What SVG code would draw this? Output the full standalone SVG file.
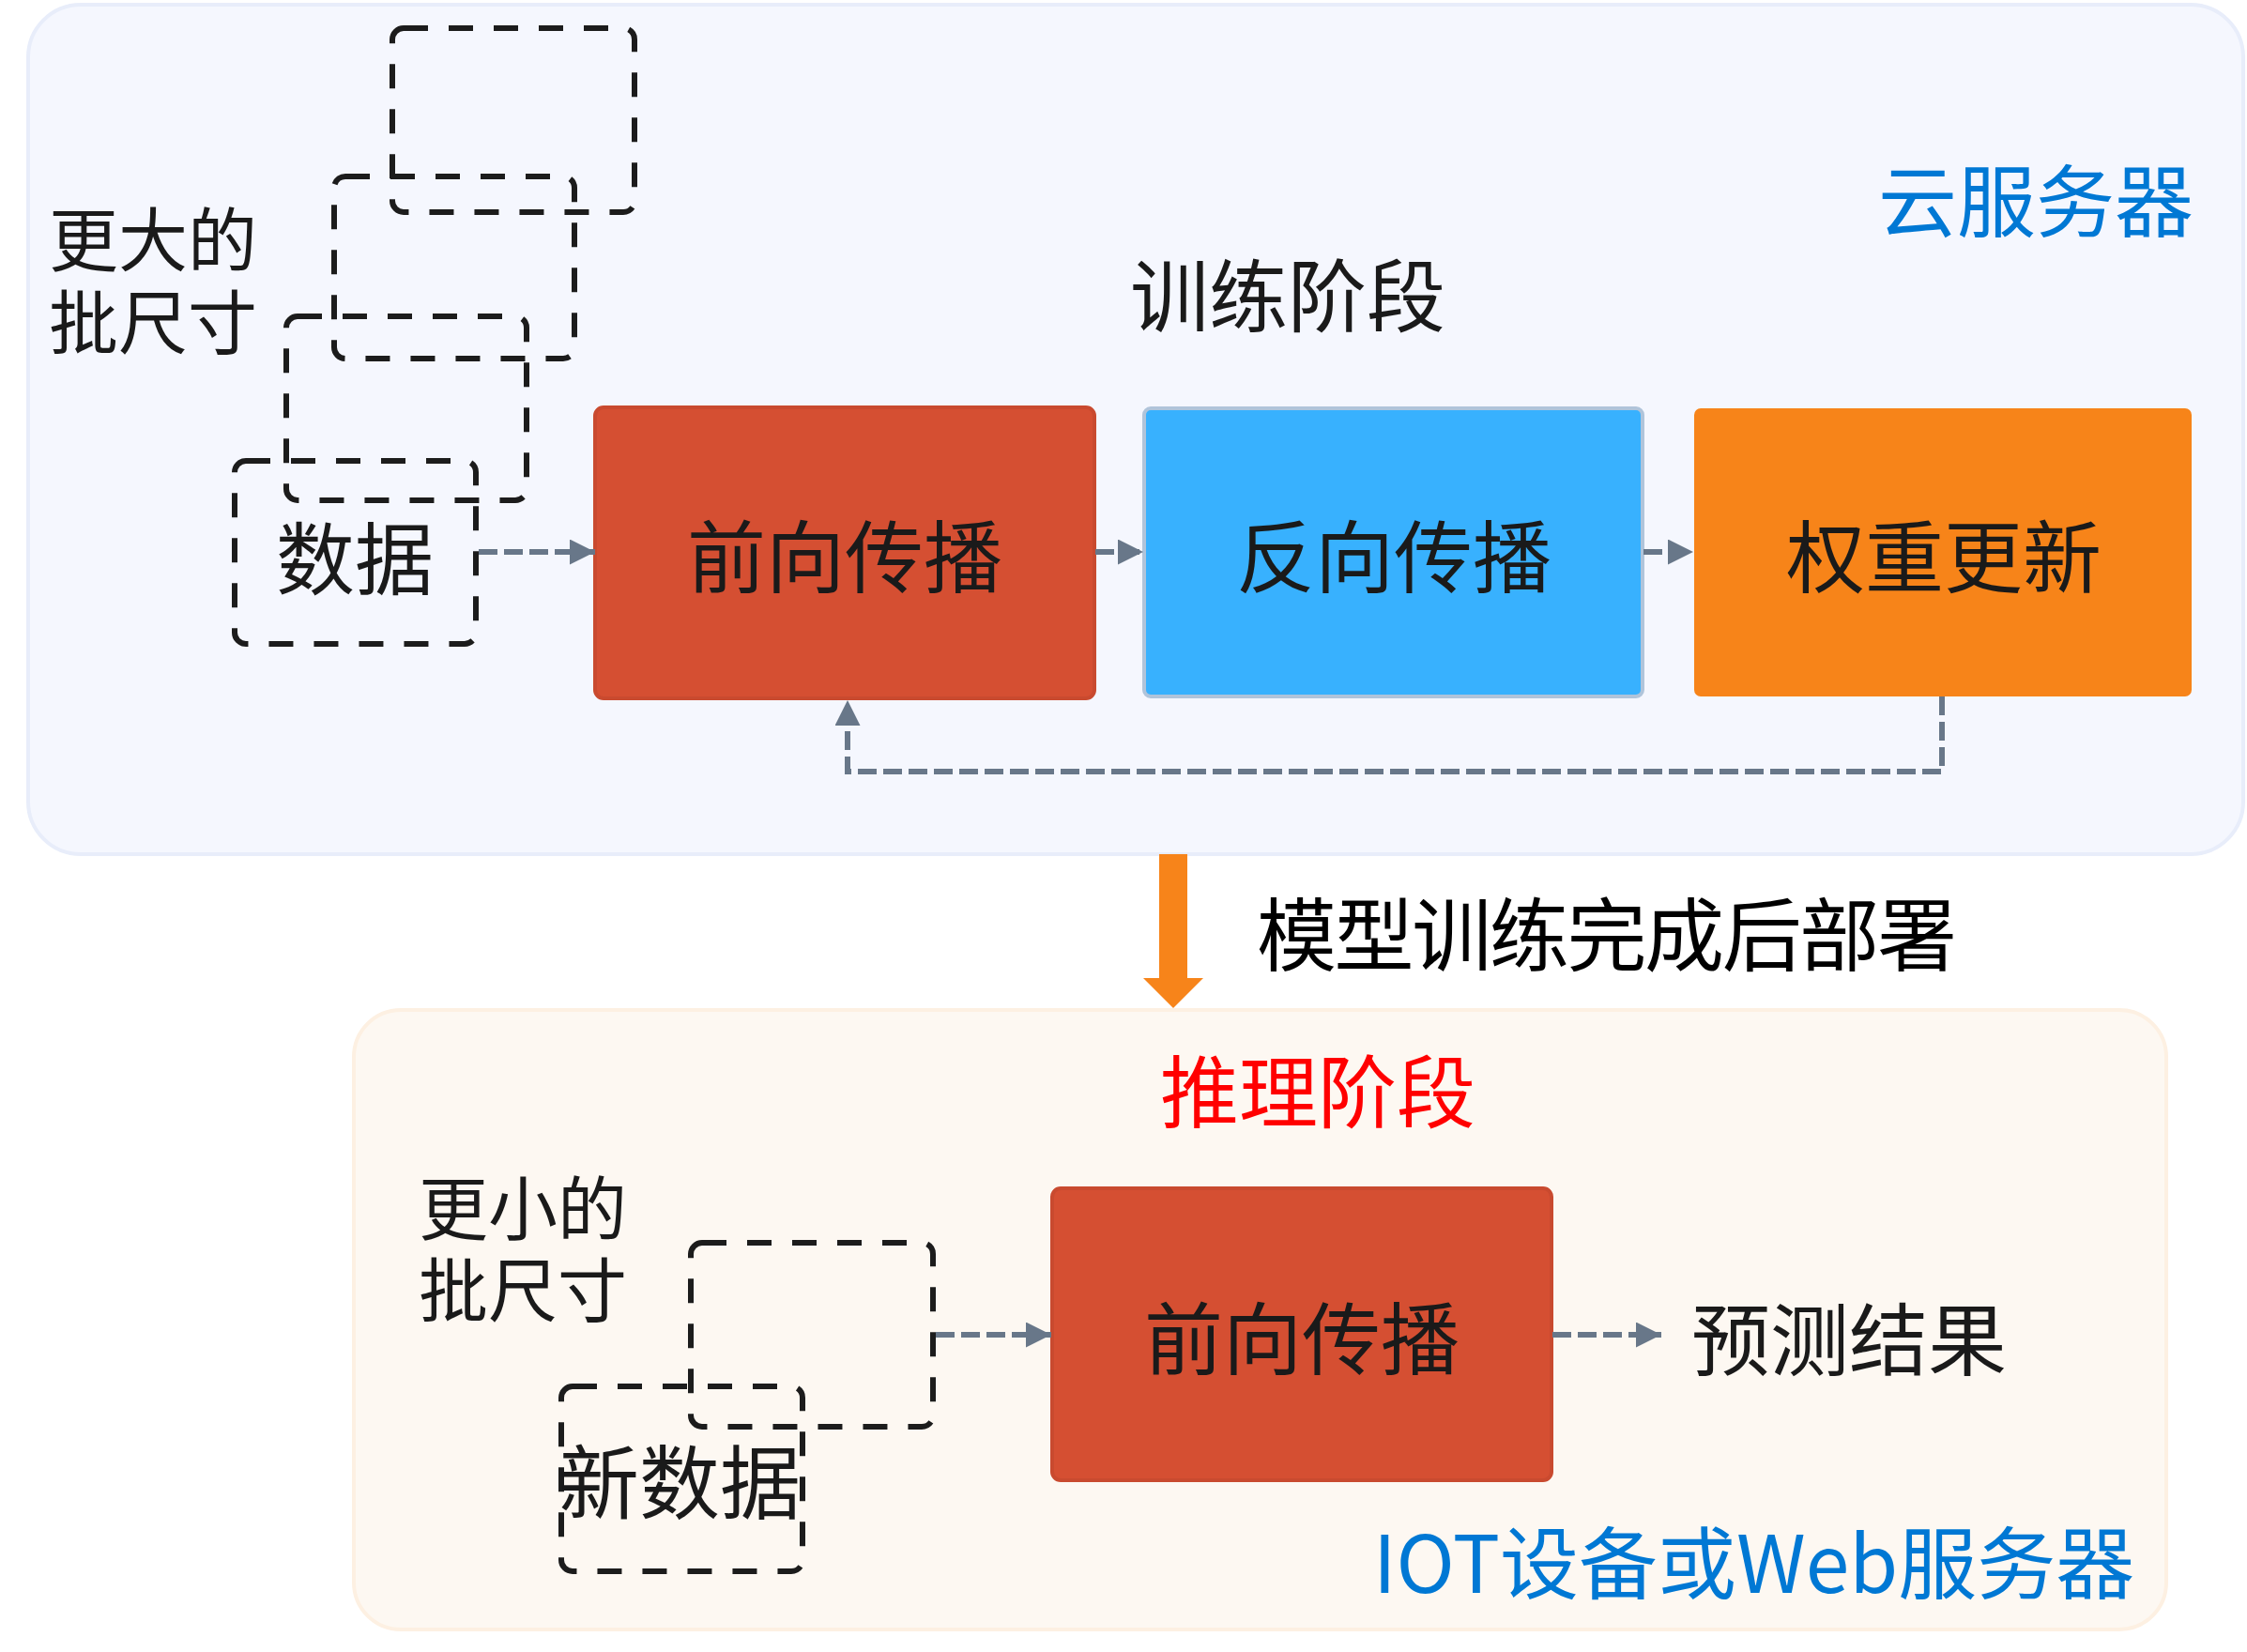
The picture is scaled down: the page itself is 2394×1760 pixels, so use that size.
<svg xmlns="http://www.w3.org/2000/svg" width="2394" height="1760" viewBox="0 0 2394 1760">
<defs>
<style>
.t{font-family:"Noto Sans CJK SC","Liberation Sans",sans-serif;dominant-baseline:central}
.dk{fill:#1a1a1a}
.c{text-anchor:middle}
.blue{fill:#0078D4}
.dash{fill:none;stroke:#1c1c1c;stroke-width:6;stroke-dasharray:26 22}
.conn{fill:none;stroke:#687789;stroke-width:6;stroke-dasharray:20 7}
</style>
<marker id="ah" viewBox="0 0 27 27" refX="27" refY="13.5" markerWidth="27" markerHeight="27" markerUnits="userSpaceOnUse" orient="auto">
<path d="M0,0 L27,13.5 L0,27 Z" fill="#687789"/>
</marker>
</defs>
<rect width="2394" height="1760" fill="#ffffff"/>
<g id="cloud-container">
<rect x="30" y="5" width="2360" height="905" rx="56" fill="#F5F7FE" stroke="#E8EDFA" stroke-width="4"/>
<text class="t blue c" x="2169" y="209" font-size="84">云服务器</text>
<text class="t dk c" x="1372" y="310" font-size="84">训练阶段</text>
</g>
<g id="iot-container">
<rect x="377" y="1076" width="1931" height="660" rx="50" fill="#FDF8F2" stroke="#FDF0E2" stroke-width="4"/>
<text class="t c" x="1404" y="1158" font-size="84" fill="#FF0000">推理阶段</text>
<text class="t blue" x="1463" y="1660" font-size="84">IOT设备或Web服务器</text>
</g>
<g id="train-data">
<rect class="dash" x="418" y="30" width="258" height="196" rx="12"/>
<rect class="dash" x="356" y="188" width="256" height="194" rx="12"/>
<rect class="dash" x="305" y="337" width="256" height="196" rx="12"/>
<rect class="dash" x="250" y="491" width="257" height="195" rx="12"/>
<text class="t dk c" x="378" y="590" font-size="84">数据</text>
<text class="t dk" font-size="74"><tspan x="52" y="250">更大的</tspan><tspan x="52" y="338">批尺寸</tspan></text>
</g>
<g id="forward-train">
<rect x="634" y="434" width="532" height="310" rx="9" fill="#D54F32" stroke="#C94A2F" stroke-width="4"/>
<text class="t dk c" x="900" y="588" font-size="84">前向传播</text>
</g>
<g id="backward">
<rect x="1219" y="435" width="531" height="307" rx="7" fill="#38B1FE" stroke="#B0C4DA" stroke-width="4"/>
<text class="t dk c" x="1485" y="588" font-size="84">反向传播</text>
</g>
<g id="weight-update">
<rect x="1805" y="435" width="530" height="307" rx="7" fill="#F78419"/>
<text class="t dk c" x="2071" y="588" font-size="84">权重更新</text>
</g>
<g id="infer-data">
<rect class="dash" x="736" y="1324" width="258" height="196" rx="12"/>
<rect class="dash" x="598" y="1477" width="257" height="197" rx="12"/>
<text class="t dk c" x="724" y="1574" font-size="86">新数据</text>
<text class="t dk" font-size="74"><tspan x="446" y="1282">更小的</tspan><tspan x="446" y="1369">批尺寸</tspan></text>
</g>
<g id="forward-infer">
<rect x="1121" y="1266" width="532" height="311" rx="9" fill="#D54F32" stroke="#C94A2F" stroke-width="4"/>
<text class="t dk c" x="1387" y="1421" font-size="84">前向传播</text>
</g>
<g id="result">
<text class="t dk c" x="1970" y="1422" font-size="84">预测结果</text>
</g>
<g id="deploy-label">
<text class="t" x="1339" y="990" font-size="85" textLength="746" lengthAdjust="spacing" fill="#000000">模型训练完成后部署</text>
</g>
<g id="connectors">
<path class="conn" d="M510,588 L634,588" marker-end="url(#ah)"/>
<path class="conn" d="M1167,588 L1218,588" marker-end="url(#ah)"/>
<path class="conn" d="M1751,588 L1804,588" marker-end="url(#ah)"/>
<path class="conn" d="M2069,742 L2069,822 L903,822 L903,746" marker-end="url(#ah)"/>
<path class="conn" d="M997,1422 L1120,1422" marker-end="url(#ah)"/>
<path class="conn" d="M1654,1422 L1770,1422" marker-end="url(#ah)"/>
<g id="deploy-arrow">
<rect x="1235" y="910" width="30" height="133" fill="#F7841A"/>
<path d="M1218,1042 L1282,1042 L1250,1074 Z" fill="#F7841A"/>
</g>
</g>
</svg>
